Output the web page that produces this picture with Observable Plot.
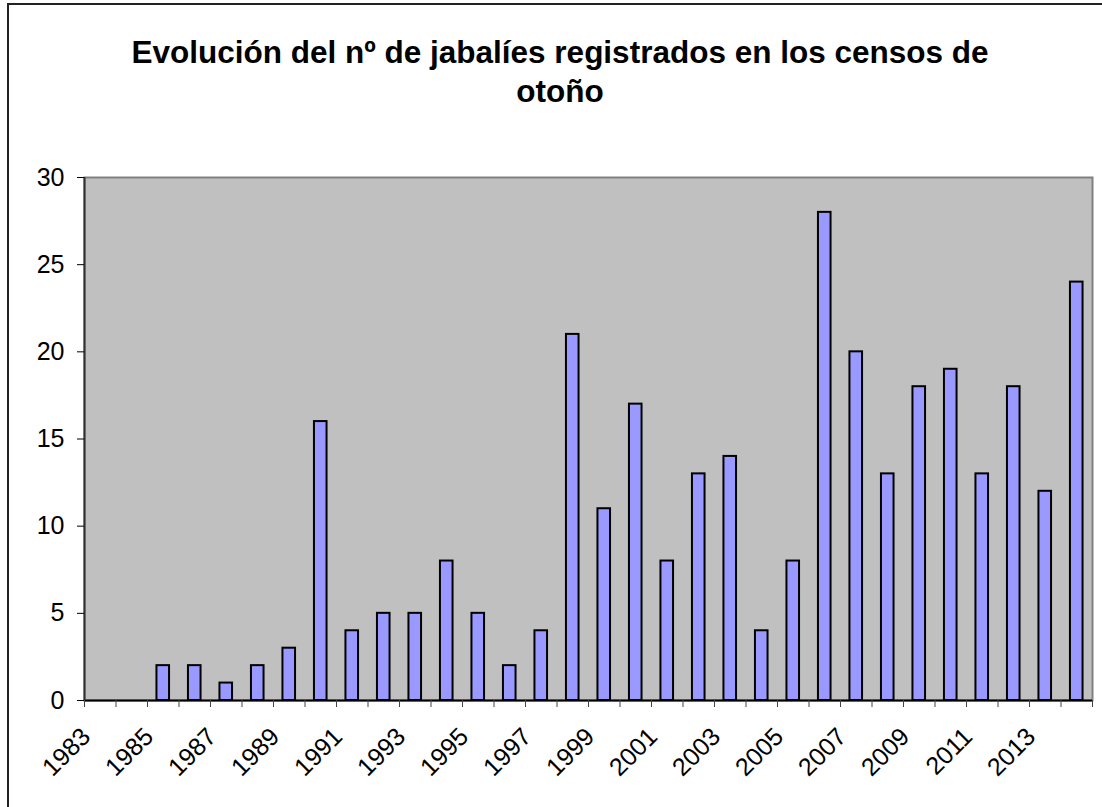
<!DOCTYPE html>
<html>
<head>
<meta charset="utf-8">
<script src="https://cdn.jsdelivr.net/npm/d3@7"></script>
<script src="https://cdn.jsdelivr.net/npm/@observablehq/plot@0.6"></script>
<style>
  html, body { margin: 0; padding: 0; background: #fff; }
  #wrap { position: relative; width: 1102px; height: 807px; overflow: hidden; background: #fff; }
  #border { position: absolute; left: 7px; top: 3px; width: 1200px; height: 900px; border: 2px solid #222; box-sizing: border-box; }
  #title { position: absolute; left: 9px; top: 0; width: 1102px; height: 120px; text-align: center;
           font-family: Arial, "Liberation Sans", sans-serif; font-weight: bold; font-size: 31.5px; line-height: 39px;
           padding-top: 33px; box-sizing: border-box; color: #000; }
  #chart { position: absolute; left: 0; top: 120px; }
</style>
</head>
<body>
<div id="wrap">
  <div id="border"></div>
  <div id="title">Evolución del nº de jabalíes registrados en los censos de<br>otoño</div>
  <div id="chart"></div>
</div>
<script>
const years = [1983,1984,1985,1986,1987,1988,1989,1990,1991,1992,1993,1994,1995,1996,1997,1998,
               1999,2000,2001,2002,2003,2004,2005,2006,2007,2008,2009,2010,2011,2012,2013,2014];
const counts = [0,0,2,2,1,2,3,16,4,5,5,8,5,2,4,21,
                11,17,8,13,14,4,8,28,20,13,18,19,13,18,12,24];
const yTicks = [0,5,10,15,20,25,30];
const xLabelYears = [1983,1985,1987,1989,1991,1993,1995,1997,1999,2001,2003,2005,2007,2009,2011,2013];

const data = years.map((year, i) => ({year, count: counts[i]}));
const lastYear = years[years.length - 1] + 1;
const boundaries = [...years, lastYear];
const gap = 0.3; // Excel gap width 150% -> bar takes 40% of the category

const font = 'Arial, "Liberation Sans", sans-serif';

const chart = Plot.plot({
  width: 1102,
  height: 687,
  marginTop: 57,
  marginLeft: 84,
  marginRight: 10,
  marginBottom: 107,
  x: {type: "linear", domain: [years[0], lastYear]},
  y: {domain: [0, 30]},
  style: {fontFamily: font, fontSize: "25px", color: "#000", background: "transparent", overflow: "visible"},
  marks: [
    Plot.frame({fill: "#c0c0c0", stroke: "#808080", strokeWidth: 2}),
    Plot.rectY(data, {x1: d => d.year + gap, x2: d => d.year + 1 - gap, y: "count",
                      fill: "#9999ff", stroke: "#000", strokeWidth: 2}),
    Plot.ruleY([0], {stroke: "#000", strokeWidth: 2}),
    Plot.ruleX([years[0]], {stroke: "#333", strokeWidth: 2}),
    Plot.axisY({ticks: yTicks, tickSize: 7, tickPadding: 13, tickFormat: d => String(d), label: null,
                stroke: "#000", fontSize: 25}),
    Plot.axisX({ticks: boundaries, tickSize: 7, tickFormat: () => "", label: null, stroke: "#444"}),
    Plot.axisX({ticks: xLabelYears.map(y => y + 0.5), tickSize: 0, tickPadding: 22, dx: -14, dy: 10, tickRotate: -45,
                tickFormat: d => String(Math.floor(d)), label: null, fontSize: 25})
  ]
});
document.getElementById("chart").appendChild(chart);
</script>
</body>
</html>
